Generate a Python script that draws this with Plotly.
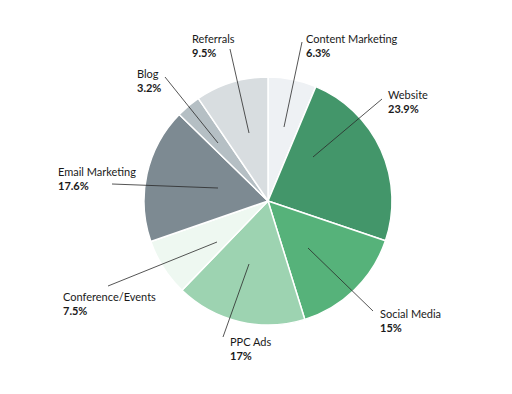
import plotly.graph_objects as go

# Data
categories = ["Content Marketing", "Website", "Social Media", "PPC Ads",
              "Conference/Events", "Email Marketing", "Blog", "Referrals"]
values = [6.3, 23.9, 15, 17, 7.5, 17.6, 3.2, 9.5]
value_labels = ["6.3%", "23.9%", "15%", "17%", "7.5%", "17.6%", "3.2%", "9.5%"]

# Styles / layout
colors = ["#eef1f4", "#43966a", "#56b27a", "#9dd3b1",
          "#eef8f1", "#7d8a92", "#b5bfc4", "#d8dde0"]
W, H = 512, 394
OFF = 8  # page body margin offset
cx, cy, r = 268 - OFF, 201 - OFF, 124
# label anchor (left x, vertical centre y) in screen pixels
label_pos = [(304, 45), (386, 101), (378, 320), (228, 348),
             (61, 303), (56, 178), (135, 80), (190, 45)]
# leader lines: (outer x, outer y, inner x, inner y) in screen pixels
leader = [(302, 42, 284, 127), (382, 99, 313, 157), (373, 311, 308, 248),
          (223, 337, 249, 264), (108, 286, 217, 242), (112, 184, 218, 188),
          (165, 77, 218, 143), (230, 49, 249, 133)]

font_family = "Lato, 'Noto Sans', sans-serif"

fig = go.Figure()
fig.add_trace(go.Pie(
    labels=categories, values=values, sort=False, direction="clockwise",
    rotation=0, textinfo="none", hoverinfo="label+percent",
    marker=dict(colors=colors, line=dict(color="white", width=1.5)),
    domain=dict(x=[(cx - r) / W, (cx + r) / W],
                y=[(H - cy - r) / H, (H - cy + r) / H]),
    showlegend=False,
))

shapes = []
for (x0, y0, x1, y1) in leader:
    shapes.append(dict(type="line", xref="x", yref="y",
                       x0=x0 - OFF, y0=y0 - OFF, x1=x1 - OFF, y1=y1 - OFF,
                       line=dict(color="#2a2a2a", width=0.8), layer="above"))

annotations = []
for name, vl, (lx, ly) in zip(categories, value_labels, label_pos):
    annotations.append(dict(xref="x", yref="y", x=lx - OFF, y=ly - OFF,
                            xanchor="left", yanchor="middle",
                            text=f"{name}<br><b>{vl}</b>", showarrow=False, align="left",
                            font=dict(family=font_family, size=11, color="#1a1a1a")))

fig.update_layout(
    width=W, height=H, margin=dict(l=0, r=0, t=0, b=0),
    paper_bgcolor="white", plot_bgcolor="rgba(0,0,0,0)",
    xaxis=dict(range=[0, W], visible=False, fixedrange=True),
    yaxis=dict(range=[H, 0], visible=False, fixedrange=True),
    shapes=shapes, annotations=annotations,
)

fig.write_html("out.html")
